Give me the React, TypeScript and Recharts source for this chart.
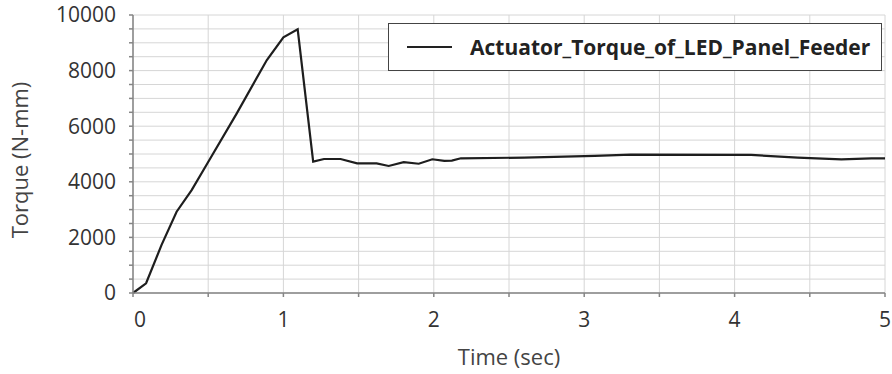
import React from "react";
import { LineChart, Line, XAxis, YAxis, CartesianGrid, Legend } from "recharts";

const timeSec = [
  0, 0.087, 0.19, 0.29, 0.39, 0.495, 0.69, 0.89, 1.0, 1.095, 1.198, 1.27, 1.38, 1.49, 1.62,
  1.7, 1.8, 1.9, 1.99, 2.07, 2.12, 2.18, 2.6, 3.07, 3.31, 4.11, 4.42, 4.71, 4.91, 5.0,
];
const torque = [
  0, 350, 1730, 2925, 3700, 4665, 6460, 8380, 9200, 9485, 4725, 4820, 4820, 4665, 4665,
  4570, 4710, 4650, 4810, 4750, 4760, 4845, 4870, 4930, 4980, 4965, 4870, 4810, 4845, 4845,
];
const xTicks = [0, 0.5, 1, 1.5, 2, 2.5, 3, 3.5, 4, 4.5, 5];
const yTicks = [
  0, 500, 1000, 1500, 2000, 2500, 3000, 3500, 4000, 4500, 5000, 5500, 6000, 6500, 7000, 7500,
  8000, 8500, 9000, 9500, 10000,
];
const seriesName = "Actuator_Torque_of_LED_Panel_Feeder";

const data = timeSec.map((t, i) => ({ t, torque: torque[i] }));

const FONT = "'Open Sans', 'Noto Sans', sans-serif";
const AXIS = "#858585";

const XTick = (props: any) => {
  const { x, y, payload } = props;
  const v = payload.value;
  if (!Number.isInteger(v)) return null;
  return (
    <text x={v === 0 ? x + 7 : x} y={y} dy="0.71em" textAnchor="middle" fill="#333" fontSize={21} fontFamily={FONT}>
      {v}
    </text>
  );
};

const LegendBox = () => (
  <div
    style={{
      boxSizing: "border-box",
      width: 494,
      height: 48,
      border: "1.5px solid #444",
      background: "#fff",
      display: "flex",
      alignItems: "center",
      fontFamily: FONT,
    }}
  >
    <div style={{ width: 45, height: 2, background: "#222", marginLeft: 18 }} />
    <span style={{ marginLeft: 18, fontWeight: 700, fontSize: 21, color: "#222", whiteSpace: "nowrap" }}>
      {seriesName}
    </span>
  </div>
);

export default function App() {
  return (
    <div style={{ position: "absolute", left: 0, top: 0, background: "#fff" }}>
      <LineChart width={892} height={374} data={data} margin={{ top: 15, right: 7, left: 0, bottom: 0 }}>
        <CartesianGrid stroke="#d6d6d6" strokeWidth={1} />
        <XAxis
          dataKey="t"
          type="number"
          domain={[0, 5]}
          ticks={xTicks}
          height={81}
          stroke={AXIS}
          strokeWidth={1.5}
          tickSize={4}
          tickMargin={15}
          tick={<XTick />}
          label={{
            value: "Time (sec)",
            position: "insideBottom",
            offset: 9,
            fill: "#444",
            fontSize: 22,
            fontFamily: FONT,
          }}
        />
        <XAxis xAxisId="top" orientation="top" type="number" domain={[0, 5]} height={0} tick={false} tickLine={false} stroke={AXIS} strokeWidth={1.5} />
        <YAxis
          type="number"
          domain={[0, 10000]}
          ticks={yTicks}
          width={133}
          interval={0}
          stroke={AXIS}
          strokeWidth={1.5}
          tickSize={4}
          tickMargin={13}
          tick={{ fill: "#333", fontSize: 21, fontFamily: FONT }}
          tickFormatter={(v: number) => (v % 2000 === 0 ? String(v) : "")}
          label={{
            value: "Torque (N-mm)",
            angle: -90,
            position: "insideLeft",
            offset: 20,
            fill: "#444",
            fontSize: 22,
            fontFamily: FONT,
            style: { textAnchor: "middle" },
            dy: 6,
          }}
        />
        <YAxis yAxisId="right" orientation="right" domain={[0, 10000]} width={0} tick={false} tickLine={false} stroke={AXIS} strokeWidth={1.5} />
        <Legend
          layout="horizontal"
          verticalAlign="middle"
          content={<LegendBox />}
          wrapperStyle={{ position: "absolute", top: 23, left: 388, width: 494, height: 48 }}
        />
        <Line
          type="linear"
          dataKey="torque"
          name={seriesName}
          stroke="#1e1e1e"
          strokeWidth={2.2}
          dot={false}
          isAnimationActive={false}
        />
      </LineChart>
    </div>
  );
}
